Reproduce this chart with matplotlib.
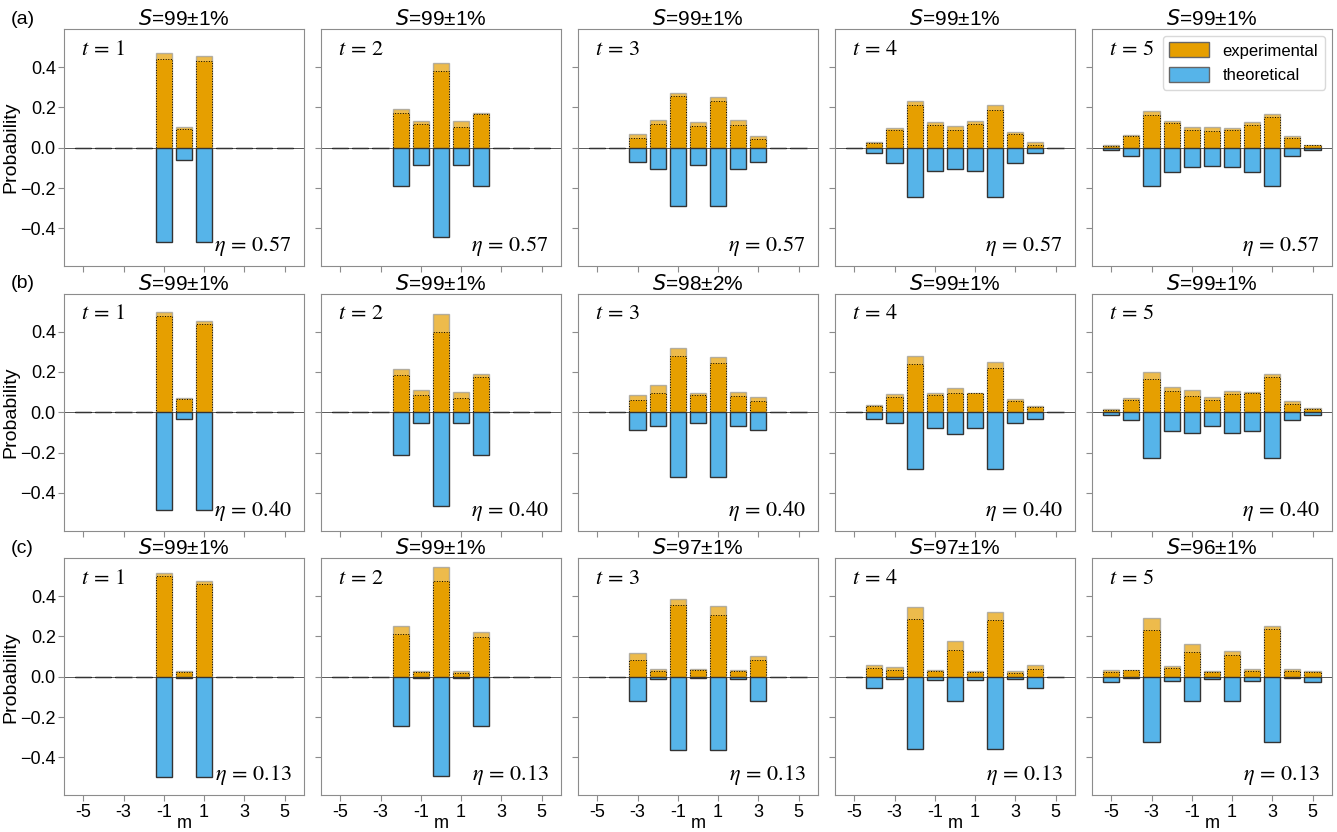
import matplotlib
matplotlib.use("Agg")
import matplotlib.pyplot as plt
from matplotlib.patches import Patch

OUTPUT_PATH = "out.png"

M = list(range(-5, 6))
T_STEPS = [1, 2, 3, 4, 5]
ROW_LABELS = ["(a)", "(b)", "(c)"]
ETA = ["0.57", "0.40", "0.13"]

# similarity S (%) per row, per step
SIM = [
    ["99±1", "99±1", "99±1", "99±1", "99±1"],
    ["99±1", "99±1", "98±2", "99±1", "99±1"],
    ["99±1", "99±1", "97±1", "97±1", "96±1"],
]

# theoretical distributions (plotted downwards), m = -5 .. 5
theo_a = [
    [0, 0, 0, 0, 0.469, 0.059, 0.469, 0, 0, 0, 0],
    [0, 0, 0, 0.189, 0.087, 0.443, 0.087, 0.189, 0, 0, 0],
    [0, 0, 0.071, 0.104, 0.288, 0.086, 0.288, 0.104, 0.071, 0, 0],
    [0, 0.025, 0.074, 0.244, 0.115, 0.104, 0.115, 0.244, 0.074, 0.025, 0],
    [0.010, 0.043, 0.189, 0.120, 0.095, 0.089, 0.095, 0.120, 0.189, 0.043, 0.010],
]
theo_b = [
    [0, 0, 0, 0, 0.484, 0.031, 0.484, 0, 0, 0, 0],
    [0, 0, 0, 0.214, 0.051, 0.464, 0.051, 0.214, 0, 0, 0],
    [0, 0, 0.089, 0.066, 0.319, 0.053, 0.319, 0.066, 0.089, 0, 0],
    [0, 0.035, 0.054, 0.280, 0.080, 0.107, 0.080, 0.280, 0.054, 0.035, 0],
    [0.015, 0.036, 0.227, 0.092, 0.102, 0.066, 0.102, 0.092, 0.227, 0.036, 0.015],
]
theo_c = [
    [0, 0, 0, 0, 0.495, 0.004, 0.495, 0, 0, 0, 0],
    [0, 0, 0, 0.244, 0.005, 0.492, 0.005, 0.244, 0, 0, 0],
    [0, 0, 0.119, 0.012, 0.365, 0.007, 0.365, 0.012, 0.119, 0, 0],
    [0, 0.058, 0.012, 0.357, 0.015, 0.120, 0.015, 0.357, 0.012, 0.058, 0],
    [0.026, 0.008, 0.321, 0.020, 0.120, 0.012, 0.120, 0.020, 0.321, 0.008, 0.026],
]

# experimental: upper end and lower end (dotted line) of the error band
exp_top_a = [
    [0, 0, 0, 0, 0.469, 0.104, 0.457, 0, 0, 0, 0],
    [0, 0, 0, 0.193, 0.133, 0.421, 0.132, 0.174, 0, 0, 0],
    [0, 0, 0.067, 0.138, 0.272, 0.127, 0.250, 0.138, 0.059, 0, 0],
    [0, 0.030, 0.100, 0.232, 0.127, 0.110, 0.135, 0.212, 0.079, 0.026, 0],
    [0.016, 0.062, 0.181, 0.133, 0.105, 0.102, 0.097, 0.128, 0.166, 0.056, 0.016],
]
exp_low_a = [
    [0, 0, 0, 0, 0.438, 0.092, 0.431, 0, 0, 0, 0],
    [0, 0, 0, 0.171, 0.117, 0.380, 0.105, 0.165, 0, 0, 0],
    [0, 0, 0.049, 0.119, 0.255, 0.109, 0.232, 0.115, 0.044, 0, 0],
    [0, 0.023, 0.089, 0.212, 0.112, 0.089, 0.119, 0.188, 0.067, 0.016, 0],
    [0.010, 0.056, 0.161, 0.123, 0.087, 0.081, 0.087, 0.114, 0.151, 0.046, 0.012],
]
exp_top_b = [
    [0, 0, 0, 0, 0.499, 0.072, 0.454, 0, 0, 0, 0],
    [0, 0, 0, 0.216, 0.109, 0.486, 0.100, 0.191, 0, 0, 0],
    [0, 0, 0.084, 0.137, 0.321, 0.095, 0.272, 0.099, 0.076, 0, 0],
    [0, 0.036, 0.091, 0.278, 0.097, 0.120, 0.097, 0.249, 0.064, 0.033, 0],
    [0.018, 0.071, 0.201, 0.125, 0.110, 0.077, 0.104, 0.102, 0.191, 0.056, 0.023],
]
exp_low_b = [
    [0, 0, 0, 0, 0.477, 0.064, 0.436, 0, 0, 0, 0],
    [0, 0, 0, 0.184, 0.084, 0.397, 0.071, 0.173, 0, 0, 0],
    [0, 0, 0.063, 0.097, 0.280, 0.086, 0.242, 0.082, 0.058, 0, 0],
    [0, 0.031, 0.074, 0.237, 0.087, 0.097, 0.095, 0.219, 0.056, 0.026, 0],
    [0.013, 0.059, 0.166, 0.107, 0.081, 0.061, 0.092, 0.095, 0.176, 0.043, 0.015],
]
exp_top_c = [
    [0, 0, 0, 0, 0.515, 0.030, 0.474, 0, 0, 0, 0],
    [0, 0, 0, 0.253, 0.031, 0.543, 0.028, 0.221, 0, 0, 0],
    [0, 0, 0.117, 0.041, 0.387, 0.038, 0.349, 0.035, 0.102, 0, 0],
    [0, 0.058, 0.049, 0.347, 0.035, 0.176, 0.031, 0.319, 0.028, 0.058, 0],
    [0.033, 0.035, 0.290, 0.051, 0.163, 0.030, 0.128, 0.041, 0.253, 0.041, 0.031],
]
exp_low_c = [
    [0, 0, 0, 0, 0.499, 0.025, 0.459, 0, 0, 0, 0],
    [0, 0, 0, 0.211, 0.025, 0.474, 0.020, 0.198, 0, 0, 0],
    [0, 0, 0.084, 0.028, 0.357, 0.036, 0.306, 0.030, 0.084, 0, 0],
    [0, 0.043, 0.035, 0.288, 0.028, 0.133, 0.025, 0.280, 0.020, 0.040, 0],
    [0.025, 0.033, 0.234, 0.044, 0.121, 0.026, 0.110, 0.030, 0.235, 0.028, 0.025],
]

THEO = [theo_a, theo_b, theo_c]
EXP_TOP = [exp_top_a, exp_top_b, exp_top_c]
EXP_LOW = [exp_low_a, exp_low_b, exp_low_c]

ORANGE = "#E69F00"
BLUE = "#56B4E9"
FRAME = "0.55"


def draw_panel(ax, theo, top, low):
    ax.bar(M, top, width=0.8, color=ORANGE, alpha=0.7, edgecolor="0.6", linewidth=1.0, zorder=2)
    ax.bar(M, low, width=0.8, color=ORANGE, edgecolor="k", linestyle=":", linewidth=0.7, zorder=2)
    ax.bar(M, [-v for v in theo], width=0.8, color=BLUE, edgecolor="0.2", linewidth=1.0, zorder=2)
    ax.axhline(0, color="0.35", linewidth=0.7, zorder=1)


def main():
    plt.rcParams["font.family"] = ["Liberation Sans", "DejaVu Sans"]
    fig, axes = plt.subplots(3, 5, figsize=(13.37, 8.32), dpi=100, sharex=True, sharey=True)
    fig.subplots_adjust(left=0.048, right=0.996, top=0.965, bottom=0.044, wspace=0.073, hspace=0.115)

    for r in range(3):
        for c in range(5):
            ax = axes[r, c]
            draw_panel(ax, THEO[r][c], EXP_TOP[r][c], EXP_LOW[r][c])
            ax.set_title(r"$S$=" + SIM[r][c] + "%", fontsize=15, pad=2)
            ax.text(0.07, 0.96, r"$t\,=\,%d$" % T_STEPS[c], transform=ax.transAxes,
                    ha="left", va="top", fontsize=16, math_fontfamily="stix")
            ax.text(0.95, 0.035, r"$\eta\,=\,%s$" % ETA[r], transform=ax.transAxes,
                    ha="right", va="bottom", fontsize=16, math_fontfamily="stix")
            for sp in ax.spines.values():
                sp.set_color(FRAME)
            ax.tick_params(colors=FRAME, labelcolor="k", labelsize=13, length=4, pad=2)
            if c == 0:
                ax.set_ylabel("Probability", fontsize=14, labelpad=1)
            if r == 2:
                ax.set_xlabel("m", fontsize=13, labelpad=-4)
        fig.text(0.008, axes[r, 0].get_position().y1 + 0.012, ROW_LABELS[r], fontsize=14, va="center")

    ax0 = axes[0, 0]
    ax0.set_xlim(-5.95, 5.95)
    ax0.set_ylim(-0.588, 0.588)
    ax0.set_yticks([-0.4, -0.2, 0.0, 0.2, 0.4])
    ax0.set_xticks([-5, -3, -1, 1, 3, 5])
    ax0.set_xticklabels(["-5", "-3", "-1", "1", "3", "5"])

    handles = [Patch(facecolor=ORANGE, edgecolor="0.4", label="experimental"),
               Patch(facecolor=BLUE, edgecolor="0.4", label="theoretical")]
    axes[0, 4].legend(handles=handles, loc="upper right", fontsize=12, framealpha=1.0,
                      edgecolor="0.85", borderaxespad=0.4, handlelength=2.4, handleheight=1.0)

    fig.savefig(OUTPUT_PATH, dpi=100)
    plt.close(fig)


if __name__ == "__main__":
    main()
